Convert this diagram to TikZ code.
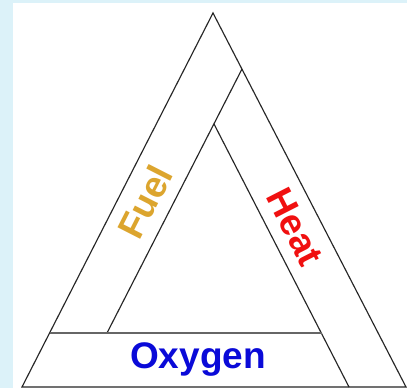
\documentclass[tikz,border=0pt]{standalone}
\usepackage{fontspec}
\setmainfont{Liberation Sans}
\usepackage{xcolor}
\usepackage{tikz}
\usetikzlibrary{calc}
\definecolor{pagebg}{HTML}{DCF2F9}
\definecolor{fuelgold}{HTML}{DCA52E}
\definecolor{heatred}{HTML}{F01010}
\definecolor{oxyblue}{HTML}{0A0AD8}
\tikzset{
  bandline/.style={
    line width=1.15pt, color=black!85, line join=miter
  },
  splitline/.style={
    line width=1.6pt, color=black!60
  },
  bandlabel/.style={
    font=\fontsize{37}{40}\selectfont\bfseries, inner sep=0pt
  },
}
\begin{document}
\begin{tikzpicture}[x=1pt, y=1pt]
  % Page
  \fill[pagebg] (0,0) rectangle (407,388);
  \fill[white] (13,0) rectangle (407,385);
  \useasboundingbox (0,0) rectangle (407,388);

  % Corners
  \coordinate (top) at (213,375);
  \coordinate (botleft) at (22,1);
  \coordinate (botright) at (406,1);
  \coordinate (fueltop) at (242,319);
  \coordinate (fuelbot) at (107,55);
  \coordinate (heattop) at (214,264);
  \coordinate (heatbot) at (349,1);
  \coordinate (oxyleft) at (49.6,55);
  \coordinate (oxyright) at (322,55);

  % Outer triangle
  \draw[bandline] (botleft) -- (top) -- (botright) -- cycle;

  % Bands
  \draw[bandline] (fueltop) -- (fuelbot);
  \draw[bandline] (heattop) -- (heatbot);
  \draw[splitline] (oxyleft) -- (oxyright);

  % Labels
  \node[bandlabel, text=fuelgold, rotate=63] (fuel) at (145,186) {Fuel};
  \node[bandlabel, text=heatred, rotate=-63] (heat) at (295,161) {Heat};
  \node[bandlabel, text=oxyblue] (oxygen) at (198,28) {Oxygen};
\end{tikzpicture}
\end{document}
